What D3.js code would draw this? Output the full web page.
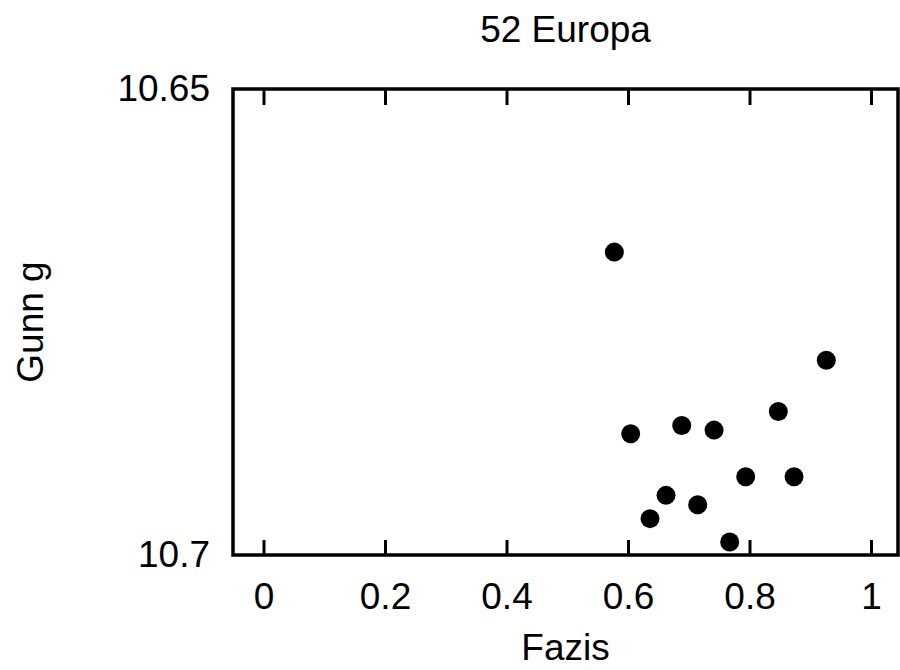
<!DOCTYPE html>
<html>
<head>
<meta charset="utf-8">
<script src="https://cdn.jsdelivr.net/npm/d3@7/dist/d3.min.js"></script>
<style>
  html, body { margin: 0; padding: 0; background: #fff; }
  svg text { font-family: "Liberation Sans", Arial, Helvetica, sans-serif; fill: #000; }
</style>
</head>
<body>
<svg id="chart" width="900" height="670"></svg>
<script>
// Data
const phase = [0.5775, 0.6044, 0.6884, 0.7416, 0.8474, 0.9264, 0.7937, 0.8733, 0.6626, 0.7147, 0.6362, 0.7674];
const gunnG = [10.6675, 10.6870, 10.6861, 10.6866, 10.6846, 10.6791, 10.6916, 10.6916, 10.6936, 10.6946, 10.6961, 10.6986];
const xTicks = [0, 0.2, 0.4, 0.6, 0.8, 1];
const yTicks = [10.65, 10.7];
const xTickLabels = ["0", "0.2", "0.4", "0.6", "0.8", "1"];
const yTickLabels = ["10.65", "10.7"];
const title = "52 Europa";
const xTitle = "Fazis";
const yTitle = "Gunn g";

const svg = d3.select("#chart");
const W = 900, H = 670;
const m = { left: 233, right: 2, top: 89, bottom: 115 };
const iw = W - m.left - m.right, ih = H - m.top - m.bottom;
const FS = 37;

const x = d3.scaleLinear().domain([-0.0502, 1.0444]).range([0, iw]);
const y = d3.scaleLinear().domain([10.65, 10.7]).range([0, ih]);

const g = svg.append("g").attr("transform", `translate(${m.left},${m.top})`);

// bottom axis (ticks pointing inward)
const xb = g.append("g").attr("transform", `translate(0,${ih})`)
  .call(d3.axisBottom(x).tickValues(xTicks).tickSizeInner(-15).tickSizeOuter(0)
    .tickPadding(28).tickFormat((d, i) => xTickLabels[i]));
xb.select(".domain").remove();
xb.selectAll("line").attr("stroke", "#000").attr("stroke-width", 3);
xb.selectAll("text").attr("font-size", FS);

// top axis ticks (no labels)
const xt = g.append("g")
  .call(d3.axisTop(x).tickValues(xTicks).tickSizeInner(-16).tickSizeOuter(0).tickFormat(""));
xt.select(".domain").remove();
xt.selectAll("line").attr("stroke", "#000").attr("stroke-width", 3);

// left axis labels only
const yl = g.append("g")
  .call(d3.axisLeft(y).tickValues(yTicks).tickSize(0).tickPadding(23)
    .tickFormat((d, i) => yTickLabels[i]));
yl.select(".domain").remove();
yl.selectAll("text").attr("font-size", FS);

// frame
g.append("rect").attr("x", 0).attr("y", 0).attr("width", iw).attr("height", ih)
  .attr("fill", "none").attr("stroke", "#000").attr("stroke-width", 3.5);

// points
g.selectAll("circle.pt").data(phase.map((p, i) => [p, gunnG[i]]))
  .enter().append("circle").attr("class", "pt")
  .attr("cx", d => x(d[0])).attr("cy", d => y(d[1])).attr("r", 9.5)
  .attr("fill", "#000");

// titles
svg.append("text").attr("x", m.left + iw / 2).attr("y", 42)
  .attr("text-anchor", "middle").attr("font-size", FS).text(title);
svg.append("text").attr("x", m.left + iw / 2).attr("y", 660)
  .attr("text-anchor", "middle").attr("font-size", FS).text(xTitle);
svg.append("text").attr("transform", `translate(43,${m.top + ih / 2}) rotate(-90)`)
  .attr("text-anchor", "middle").attr("font-size", FS).text(yTitle);
</script>
</body>
</html>
